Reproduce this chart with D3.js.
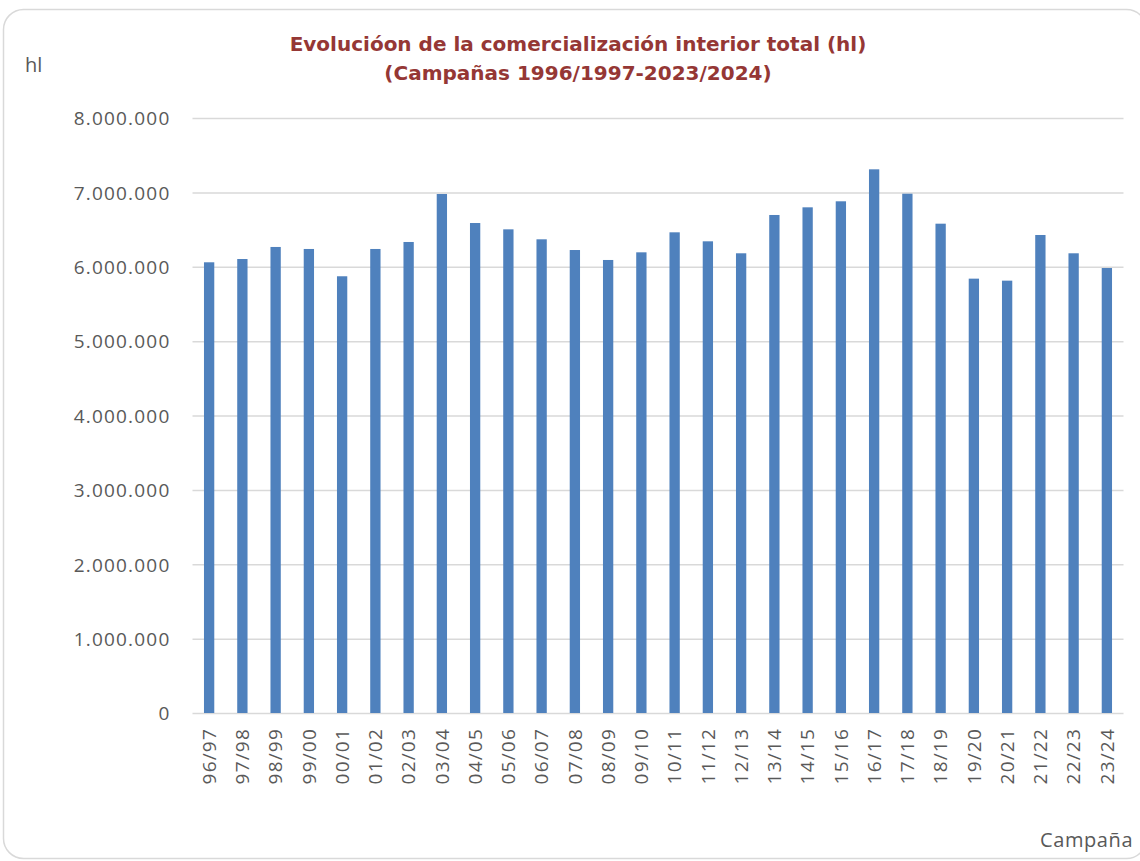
<!DOCTYPE html>
<html>
<head>
<meta charset="utf-8">
<script src="https://cdn.jsdelivr.net/npm/d3@7"></script>
<style>
  html, body { margin: 0; padding: 0; background: #ffffff; }
  svg { display: block; }
</style>
</head>
<body>
<svg id="chart" width="1140" height="861"></svg>
<script>
// Campaign labels (x axis)
const campaigns = [
  "96/97", "97/98", "98/99", "99/00", "00/01", "01/02", "02/03", "03/04",
  "04/05", "05/06", "06/07", "07/08", "08/09", "09/10", "10/11", "11/12",
  "12/13", "13/14", "14/15", "15/16", "16/17", "17/18", "18/19", "19/20",
  "20/21", "21/22", "22/23", "23/24"
];

// Total domestic commercialisation per campaign (hl)
const volumes = [
  6060000, 6104000, 6266000, 6239000, 5872000, 6239000, 6333000, 6978000,
  6588000, 6503000, 6369000, 6225000, 6091000, 6194000, 6463000, 6342000,
  6181000, 6696000, 6799000, 6880000, 7310000, 6982000, 6579000, 5840000,
  5813000, 6427000, 6181000, 5983000
];

// Y axis ticks
const yTicks = [0, 1000000, 2000000, 3000000, 4000000, 5000000, 6000000, 7000000, 8000000];

const titleLines = [
  "Evolucióon de la comercialización interior total (hl)",
  "(Campañas 1996/1997-2023/2024)"
];
const yAxisTitle = "hl";
const xAxisTitle = "Campaña";

const svg = d3.select("#chart");
const textColor = "#595959";
const gridColor = "#d9d9d9";
const barColor = "#4f81bd";
const labelFont = "'Open Sans', sans-serif";

// Chart frame
svg.append("rect")
  .attr("x", 3.5).attr("y", 9.5)
  .attr("width", 1143).attr("height", 849)
  .attr("rx", 20).attr("ry", 20)
  .attr("fill", "#ffffff")
  .attr("stroke", gridColor)
  .attr("stroke-width", 1.5);

const plot = { left: 192.5, right: 1123.5, top: 118, bottom: 713 };

const x = d3.scaleBand()
  .domain(campaigns)
  .range([plot.left, plot.right])
  .paddingInner(0.69)
  .paddingOuter(0.345);

const y = d3.scaleLinear()
  .domain([0, 8000000])
  .range([plot.bottom, plot.top]);

const fmt = v => d3.format(",")(v).replace(/,/g, ".");

// Gridlines and y tick labels
const yAxis = d3.axisLeft(y)
  .tickValues(yTicks)
  .tickSize(-(plot.right - plot.left))
  .tickPadding(22)
  .tickFormat(fmt);

const gy = svg.append("g")
  .attr("transform", `translate(${plot.left},0)`)
  .call(yAxis);
gy.select(".domain").remove();
gy.selectAll(".tick line")
  .attr("stroke", gridColor)
  .attr("stroke-width", 1.5);
gy.selectAll(".tick text")
  .attr("fill", textColor)
  .attr("font-family", labelFont)
  .attr("font-size", 19)
  .attr("letter-spacing", "1.2px")
  .attr("dy", "0.36em");

// Bars
svg.append("g")
  .selectAll("rect")
  .data(campaigns.map((c, i) => ({ c, v: volumes[i] })))
  .join("rect")
  .attr("x", d => x(d.c))
  .attr("y", d => y(d.v))
  .attr("width", x.bandwidth())
  .attr("height", d => y(0) - y(d.v))
  .attr("fill", barColor);

// Category axis labels (rotated)
const xAxis = d3.axisBottom(x).tickSize(0).tickPadding(0);
const gx = svg.append("g")
  .attr("transform", `translate(0,${plot.bottom})`)
  .call(xAxis);
gx.select(".domain").remove();
gx.selectAll(".tick text")
  .attr("fill", textColor)
  .attr("font-family", labelFont)
  .attr("font-size", 19)
  .attr("letter-spacing", "1.2px")
  .attr("text-anchor", "end")
  .attr("transform", "rotate(-90)")
  .attr("x", -15)
  .attr("y", 0)
  .attr("dy", "0.36em");

// Title
svg.append("text")
  .attr("x", 578).attr("y", 51)
  .attr("text-anchor", "middle")
  .attr("font-family", "'DejaVu Sans', sans-serif")
  .attr("font-weight", "bold")
  .attr("font-size", 20)
  .attr("fill", "#953735")
  .selectAll("tspan")
  .data(titleLines)
  .join("tspan")
  .attr("x", 578)
  .attr("dy", (d, i) => i === 0 ? 0 : 29)
  .text(d => d);

// Axis titles
svg.append("text")
  .attr("x", 25).attr("y", 72)
  .attr("font-family", labelFont)
  .attr("font-size", 20)
  .attr("fill", textColor)
  .text(yAxisTitle);

svg.append("text")
  .attr("x", 1040).attr("y", 847)
  .attr("font-family", labelFont)
  .attr("font-size", 20)
  .attr("letter-spacing", "0.6px")
  .attr("fill", textColor)
  .text(xAxisTitle);
</script>
</body>
</html>
